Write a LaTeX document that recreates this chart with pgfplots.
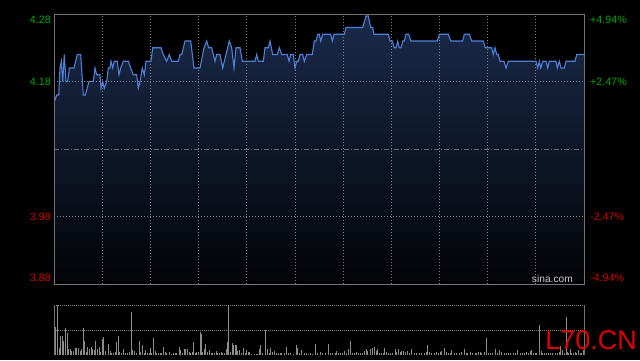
\documentclass[border=0pt]{standalone}
\usepackage{pgfplots}
\usepackage{pgfplotstable}
\pgfplotsset{compat=1.18}
\usepackage{fontspec}
\setmainfont{Liberation Sans}
\definecolor{pgreen}{RGB}{0,168,0}
\definecolor{pred}{RGB}{215,0,0}
\definecolor{bordc}{RGB}{115,115,115}
\definecolor{gridc}{RGB}{130,130,130}
\definecolor{linec}{RGB}{78,128,218}
\definecolor{filltop}{RGB}{26,42,74}
\definecolor{fillbot}{RGB}{2,3,6}
\definecolor{volc}{RGB}{140,140,140}
\definecolor{wmred}{RGB}{225,0,0}

\pgfplotstableread{
x y
54.3 4.15
56.7 4.16
58.7 4.16
60 4.20
61.3 4.21
62.7 4.18
64.3 4.22
66 4.18
67.7 4.18
69.3 4.20
74 4.20
77.3 4.22
80.7 4.22
83.3 4.16
85.3 4.16
89 4.18
93.3 4.18
95 4.20
96.7 4.19
100 4.19
101 4.17
102.7 4.18
104.3 4.17
106.7 4.18
108.3 4.20
110 4.20
111 4.21
112.7 4.20
114.3 4.21
117.3 4.21
119 4.19
120.7 4.20
123.3 4.21
128.3 4.21
130.7 4.20
133.3 4.19
136.7 4.19
138.3 4.17
140 4.18
142.3 4.20
144.3 4.19
146 4.21
151 4.21
152.7 4.23
161 4.23
163.3 4.22
166.7 4.21
169.3 4.22
171.7 4.21
178.3 4.21
180 4.22
181.7 4.22
185 4.24
190.7 4.24
194 4.20
200 4.20
204 4.23
206.7 4.24
208.7 4.23
211.7 4.23
215 4.21
216.7 4.22
220 4.22
222.7 4.20
226 4.22
229.3 4.24
231.7 4.23
234 4.20
236 4.23
240 4.23
242.3 4.21
255 4.21
256.7 4.22
258.3 4.21
263.3 4.21
265 4.23
268.3 4.23
270 4.24
272.7 4.22
277.3 4.22
279.3 4.23
281.7 4.22
287.3 4.22
289 4.21
290.7 4.22
293.3 4.22
295 4.20
296.7 4.21
298.3 4.21
300 4.22
302.7 4.22
304.3 4.21
306.7 4.22
312.3 4.22
314.3 4.24
316 4.24
317.7 4.25
319.3 4.25
320.7 4.24
322.7 4.25
330.7 4.25
332.3 4.24
334 4.25
344.3 4.25
346 4.26
362.7 4.26
366 4.277
368.3 4.277
370.7 4.26
372.7 4.26
374 4.25
388.3 4.25
390 4.24
392.3 4.24
394.3 4.23
396 4.23
397.7 4.24
399.3 4.23
401 4.23
402.7 4.24
404.3 4.24
406 4.25
408.7 4.25
410.7 4.24
437.3 4.24
439.3 4.25
448.3 4.25
450.7 4.24
462.7 4.24
464.3 4.25
469.3 4.25
471.7 4.24
483.3 4.24
485.3 4.23
491.7 4.23
493.3 4.22
495 4.23
496.7 4.22
498.3 4.22
500 4.21
504 4.21
506 4.20
508.3 4.21
536 4.21
537.7 4.20
539.3 4.21
540.7 4.20
542.7 4.21
546 4.21
547.7 4.20
549.3 4.21
556 4.21
557.3 4.20
559.3 4.21
561 4.20
564.3 4.20
566 4.21
575 4.21
576.7 4.22
584 4.22
}\pricedata

\pgfplotstableread{
x v
55 28.3
57.3 50
59.3 7.3
60.3 19
62 19
63.3 14.3
65.3 26.7
67.3 22.3
68.3 5.7
70 5.7
71.7 4.3
73.3 4.3
75 6.7
76.7 6.7
78.3 6.7
80 4.3
81.7 5.7
83.3 26.7
84.3 14.3
86 2.7
87.3 7.7
89.3 5.7
91 7.7
92.7 5.7
94.3 5
95.7 14
97.3 5.7
99 8.3
100.7 3.3
102.3 16
103.3 17.7
105.3 4
108 11
110 4.3
111.7 2.3
113.3 1.7
115.3 3.3
116.3 13
118.3 19
119.3 3.3
121.3 1.7
123.3 6
125.3 2.3
127.3 1.7
129.3 3.3
131.3 43
132.7 5
134.3 4
136.7 1.7
139.3 14
140.7 3.3
142.3 10
144 1.7
145.7 5
147.3 2.3
149.3 2.3
150.7 6.7
151.7 2.3
153.3 17
155 4.3
156.7 2.3
158.3 2.3
160 2.3
161.7 1.7
163.3 8
165 3.3
166.7 1.7
169.3 3
171.3 1
173.3 2.3
175 2.3
176.7 1.7
179.3 8
180.7 5
182.7 2.3
184 5.7
185.7 5.7
187.3 5.7
189 2.7
190.7 2.3
192 3
193.3 13
195 2.3
196.7 3
198.7 3
200 23
201 20.7
202.7 3.3
204 5.7
205.7 11
207.3 3.3
209 5
211 1.7
212.7 2.3
214.3 1.7
216.3 4.3
217.7 1.7
219.3 2.3
221 3
222.7 1.7
224.3 2.3
226 5.7
227.3 13
228.7 50
230 3.3
232 11.7
233.3 10
235 10
236 10
237.7 4
239.3 5
241.3 2.3
243.3 6.7
245 2.3
246.7 5
248.3 3
249.3 3
251.7 1
254 1
256 1
257.3 1
259 5.7
260.7 10
262.7 1.7
265 25.3
267.3 5.7
269.3 1.7
270.7 6.7
272.7 3.3
274 4
276 1.7
278.3 1.7
280 2.3
281.7 1.7
284 1.7
286 7.7
288.3 2.3
290.7 1.7
293.3 1
296 10
297.3 7.3
299.3 2.3
301.7 5
304 2.3
306 1.7
308.3 1
310.7 1.7
312.7 1
315.3 11
317.3 1.7
320 3.3
322.7 1.7
325 2.3
328.3 10.7
330 1.7
332.7 2.3
335 1.7
336.7 4.3
338.3 1.7
340.7 2.3
342.7 1.7
344.3 4
346.7 1.7
348.3 5.7
350.7 14
352.7 1.7
354.3 2.3
356 3
358.3 1.7
360.7 1.7
362.7 2.3
364.3 4.3
366 6
367.7 4.3
370 5.7
372.3 6.7
374.3 7.7
376 4.3
377.3 5.7
379.3 1.7
381.7 1.7
383.3 2.3
384.3 6.7
386 3
388.3 1.7
390.7 2.3
392.7 1.7
395 5.7
396.7 3
398.3 5.7
400 3
401.7 4.3
403.3 4.3
405 3
407.3 4.3
409.3 2.3
411.7 6
414 2.3
416.7 2.3
419.3 1.7
421.7 2.3
424 2.3
426 3
427.3 10
429.3 3
431.7 2.3
434 1.7
436 3
438.3 2.3
440 3
441.7 4.3
444 6.7
446 3
448.3 2.3
450 1.7
451.7 5
454 2.3
456.7 1.7
459.3 2.3
461.7 3
464 5.7
466 2.3
467.3 2.3
470 3.3
472.7 2.3
475 1.7
476.7 2.3
478.3 3
480 3
481.7 2.3
484 3
486 16.7
488.3 2.3
490.7 1.7
492.7 2.3
495 5.7
497.3 2.3
499.3 5
501.7 3
504 2.3
506 1.7
508.3 1.7
510.7 2.3
513.3 2.3
515 1.7
517.3 5
520 2.3
522.7 1.7
524 2.3
526.7 3
528.3 2.3
530 4
531.7 5
533.3 2.3
535 1.7
536.7 2.3
539.3 30
541 4
542.7 2.3
544 2.3
546 2.3
548.3 2.3
550 2.3
552.7 2.3
555 2.3
557.3 1.7
559.3 3
560.7 9
562.7 5
564.3 2.3
566 37.7
567.3 3.3
568.7 2.3
570 5.7
571.7 2.3
573.3 2.3
575 3.3
576.7 2.3
578.3 5
580 2.3
581.7 1.7
583.3 5
}\voldata

\begin{document}
\begin{tikzpicture}[x=1bp,y=1bp]
\useasboundingbox (0,0) rectangle (640,360);
\fill[black] (0,0) rectangle (640,360);

% main price axis
\begin{axis}[at={(54bp,76bp)}, anchor=south west, scale only axis,
  width=530bp, height=270bp,
  xmin=54, xmax=584, ymin=3.88, ymax=4.28,
  axis on top,
  axis line style={bordc, line width=0.8bp},
  xtick={102.18,150.36,198.55,246.73,294.91,343.09,391.27,439.45,487.64,535.82},
  xticklabels={},
  ytick={3.98,4.18},
  yticklabels={\textcolor{pred}{3.98},\textcolor{pgreen}{4.18}},
  extra y ticks={3.889,4.271},
  extra y tick labels={\textcolor{pred}{3.88},\textcolor{pgreen}{4.28}},
  extra y tick style={grid=none},
  major tick length=0pt,
  grid=major,
  major grid style={gridc, line width=0.7bp, dash pattern=on 1bp off 2bp},
  tick label style={font=\fontsize{10.7bp}{12bp}\selectfont},
  yticklabel style={inner sep=0pt, xshift=-3bp},
]
\addplot[draw=none, top color=filltop, bottom color=fillbot] table[x=x,y=y] {\pricedata} \closedcycle;
\addplot[gridc!120, line width=0.7bp, dash pattern=on 5bp off 2bp on 1bp off 2bp] coordinates {(54,4.08) (584,4.08)};
\addplot[linec, line width=1.1bp] table[x=x,y=y] {\pricedata};
\end{axis}

% right-hand percentage labels
\begin{axis}[at={(54bp,76bp)}, anchor=south west, scale only axis,
  width=530bp, height=270bp,
  xmin=54, xmax=584, ymin=3.88, ymax=4.28,
  hide x axis,
  axis line style={draw=none},
  ytick={3.98,4.18},
  yticklabels={\textcolor{pred}{-2.47\%},\textcolor{pgreen}{+2.47\%}},
  extra y ticks={3.889,4.271},
  extra y tick labels={\textcolor{pred}{-4.94\%},\textcolor{pgreen}{+4.94\%}},
  yticklabel pos=right,
  major tick length=0pt,
  tick label style={font=\fontsize{10.7bp}{12bp}\selectfont},
  yticklabel style={inner sep=0pt, xshift=6bp},
]
\end{axis}

% volume axis
\begin{axis}[at={(54bp,5bp)}, anchor=south west, scale only axis,
  width=530bp, height=50bp,
  xmin=54, xmax=584, ymin=0, ymax=50,
  axis line style={draw=none},
  xtick=\empty,
  extra x ticks={54,584},
  extra x tick labels={},
  extra x tick style={grid=major, major grid style={bordc, solid, line width=0.8bp}},
  ytick={25,50},
  yticklabels={},
  ymajorgrids,
  major tick length=0pt,
  major grid style={gridc, line width=0.8bp, dash pattern=on 1bp off 1bp},
]
\addplot[ycomb, volc, line width=1bp, mark=none] table[x=x,y=v] {\voldata};
\end{axis}

\node[anchor=east, inner sep=0pt, text=black!20, font=\fontsize{10.2bp}{12bp}\selectfont] at (573,81) {sina.com};
\node[anchor=base east, inner sep=0pt, text=wmred, font=\fontsize{27bp}{30bp}\selectfont] at (637,10.7) {L70.CN};
\end{tikzpicture}
\end{document}
